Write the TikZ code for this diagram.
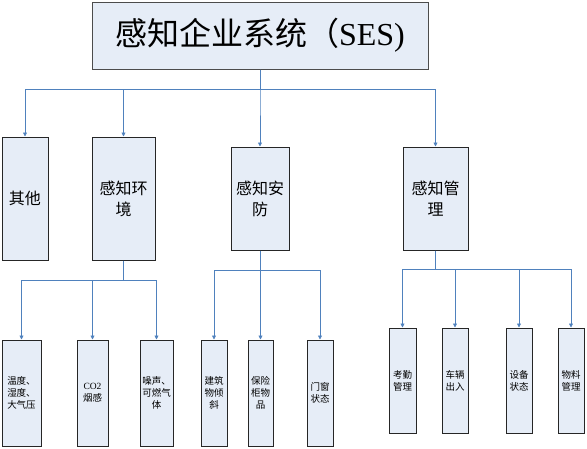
\documentclass[tikz,border=0pt]{standalone}
\usepackage{fontspec}
\setmainfont{Liberation Serif}
\newfontfamily\cjk{Noto Sans CJK SC}
\usetikzlibrary{arrows.meta}

\definecolor{boxfill}{HTML}{E6EDF7}
\definecolor{linkblue}{HTML}{4F81BD}

\begin{document}
\begin{tikzpicture}[x=1pt, y=-1pt,
    box/.style={draw=black!85, line width=1pt, fill=boxfill, align=center, inner sep=0pt},
    topbox/.style={box, draw=black!70, font=\fontsize{32}{38}\selectfont},
    mainbox/.style={box, font=\cjk\fontsize{16}{21}\selectfont},
    subbox/.style={box, font=\cjk\fontsize{9.5}{12}\selectfont},
    link/.style={draw=linkblue, line width=0.8pt, -{Triangle[length=4pt, width=4pt]}}]
    \useasboundingbox (0,0) rectangle (587,448);
    % top
    \node[topbox, minimum width=336pt, minimum height=67pt] (ses) at (260,35.5) {{\cjk 感知企业系统（}SES)};
    % second level
    \node[mainbox, minimum width=46pt, minimum height=123pt] (other) at (25,198.5) {其他};
    \node[mainbox, minimum width=63pt, minimum height=123pt] (env) at (123.5,198.5) {感知环\\境};
    \node[mainbox, minimum width=58pt, minimum height=103pt] (sec) at (260,198.5) {感知安\\防};
    \node[mainbox, minimum width=65pt, minimum height=103pt] (mgmt) at (435.5,198.5) {感知管\\理};
    % environment
    \node[subbox, minimum width=39pt, minimum height=106pt] (env1) at (21.5,393) {温度、\\湿度、\\大气压};
    \node[subbox, minimum width=31pt, minimum height=106pt] (env2) at (92.5,393) {{\rmfamily CO2}\\烟感};
    \node[subbox, minimum width=33pt, minimum height=106pt] (env3) at (156.5,393) {噪声、\\可燃气\\体};
    % security
    \node[subbox, minimum width=26pt, minimum height=106pt] (sec1) at (214,393) {建筑\\物倾\\斜};
    \node[subbox, minimum width=25pt, minimum height=106pt] (sec2) at (260.5,393) {保险\\柜物\\品};
    \node[subbox, minimum width=26pt, minimum height=106pt] (sec3) at (320,393) {门窗\\状态};
    % management
    \node[subbox, minimum width=27pt, minimum height=105pt] (mgmt1) at (402.5,380.5) {考勤\\管理};
    \node[subbox, minimum width=26pt, minimum height=105pt] (mgmt2) at (455,380.5) {车辆\\出入};
    \node[subbox, minimum width=26pt, minimum height=105pt] (mgmt3) at (519,380.5) {设备\\状态};
    \node[subbox, minimum width=26pt, minimum height=105pt] (mgmt4) at (571,380.5) {物料\\管理};
    % buses
    \coordinate (sesbus) at (260,89);
    \coordinate (envbus) at (123.5,280);
    \coordinate (secbus) at (260,270);
    \coordinate (mgmtbus) at (435.5,269);
    \foreach \c in {other,env,sec,mgmt}
        \draw[link] (ses.south) -- (sesbus) -| (\c.north);
    \foreach \c in {env1,env2,env3}
        \draw[link] (env.south) -- (envbus) -| (\c.north);
    \foreach \c in {sec1,sec2,sec3}
        \draw[link] (sec.south) -- (secbus) -| (\c.north);
    \foreach \c in {mgmt1,mgmt2,mgmt3,mgmt4}
        \draw[link] (mgmt.south) -- (mgmtbus) -| (\c.north);
\end{tikzpicture}
\end{document}
